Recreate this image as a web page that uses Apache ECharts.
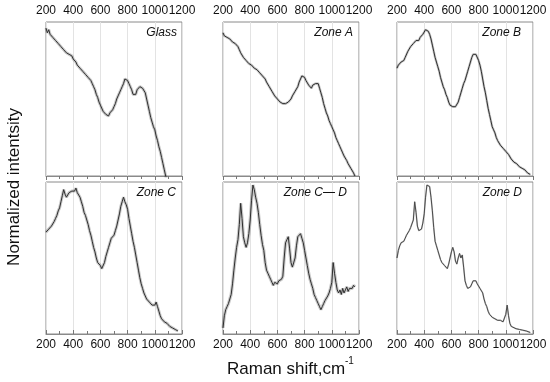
<!DOCTYPE html>
<html><head><meta charset="utf-8">
<script src="https://cdn.jsdelivr.net/npm/echarts@6/dist/echarts.min.js"></script>
<style>html,body{margin:0;padding:0;background:#fff}#c{width:550px;height:382px}</style>
</head><body><div id="c"></div>
<script>
const xTicks = [200, 400, 600, 800, 1000, 1200];
const panelNames = ['Glass', 'Zone A', 'Zone B', 'Zone C', 'Zone C\u2014 D', 'Zone D'];
const glass = [[200,.96],[210,.93],[220,.95],[230,.92],[240,.93],[250,.90],[260,.91],[270,.88],[280,.89],[290,.86],[300,.86],[310,.84],[320,.85],[330,.82],[340,.83],[350,.80],[360,.81],[370,.79],[380,.78],[390,.78],[400,.76],[410,.75],[420,.74],[430,.72],[440,.73],[450,.70],[460,.70],[470,.68],[480,.68],[490,.66],[500,.66],[510,.64],[520,.63],[530,.62],[540,.60],[550,.58],[560,.56],[570,.53],[580,.51],[590,.48],[600,.46],[610,.45],[620,.42],[630,.43],[640,.40],[650,.41],[660,.39],[670,.41],[680,.40],[690,.43],[700,.45],[710,.47],[720,.50],[730,.52],[740,.54],[750,.56],[760,.58],[770,.60],[780,.63],[790,.64],[800,.62],[810,.60],[820,.58],[830,.56],[840,.53],[850,.54],[860,.53],[870,.56],[880,.57],[890,.58],[900,.59],[910,.57],[920,.58],[930,.54],[940,.50],[950,.46],[960,.42],[970,.38],[980,.35],[990,.32],[1000,.30],[1010,.26],[1020,.23],[1030,.19],[1040,.16],[1050,.12],[1060,.08],[1070,.04],[1080,0],[1090,-.04]];
const zoneA = [[200,.93],[210,.91],[220,.92],[230,.90],[240,.91],[250,.89],[260,.89],[270,.87],[280,.88],[290,.86],[300,.86],[310,.84],[320,.82],[330,.80],[340,.79],[350,.77],[360,.77],[370,.75],[380,.75],[390,.73],[400,.73],[410,.72],[420,.72],[430,.70],[440,.71],[450,.69],[460,.69],[470,.67],[480,.67],[490,.65],[500,.64],[510,.63],[520,.61],[530,.60],[540,.58],[550,.57],[560,.55],[570,.54],[580,.52],[590,.52],[600,.50],[610,.49],[620,.48],[630,.47],[640,.47],[650,.46],[660,.47],[670,.47],[680,.48],[690,.49],[700,.50],[710,.52],[720,.53],[730,.55],[740,.56],[750,.58],[760,.61],[770,.63],[780,.65],[790,.66],[800,.64],[810,.62],[820,.61],[830,.59],[840,.58],[850,.57],[860,.59],[870,.58],[880,.60],[890,.59],[900,.60],[910,.57],[920,.54],[930,.51],[940,.47],[950,.44],[960,.41],[970,.39],[980,.36],[990,.34],[1000,.32],[1010,.30],[1020,.28],[1030,.25],[1040,.23],[1050,.21],[1060,.19],[1070,.17],[1080,.15],[1090,.13],[1100,.12],[1110,.10],[1120,.08],[1130,.07],[1140,.05],[1150,.04],[1160,.02],[1170,0]];
const zoneB = [[200,.70],[210,.72],[220,.71],[230,.74],[240,.74],[250,.75],[260,.77],[270,.78],[280,.81],[290,.82],[300,.84],[310,.85],[320,.86],[330,.87],[340,.88],[350,.89],[360,.88],[370,.90],[380,.91],[390,.92],[400,.93],[410,.95],[420,.96],[430,.94],[440,.92],[450,.89],[460,.85],[470,.81],[480,.77],[490,.74],[500,.71],[510,.68],[520,.64],[530,.61],[540,.58],[550,.56],[560,.53],[570,.51],[580,.48],[590,.46],[600,.46],[610,.45],[620,.44],[630,.45],[640,.46],[650,.48],[660,.51],[670,.54],[680,.57],[690,.60],[700,.62],[710,.65],[720,.68],[730,.71],[740,.74],[750,.77],[760,.79],[770,.80],[780,.79],[790,.78],[800,.75],[810,.72],[820,.68],[830,.63],[840,.58],[850,.54],[860,.49],[870,.44],[880,.40],[890,.36],[900,.32],[910,.30],[920,.28],[930,.25],[940,.23],[950,.22],[960,.20],[970,.19],[980,.18],[990,.17],[1000,.16],[1020,.14],[1040,.11],[1060,.09],[1080,.08],[1100,.06],[1120,.05],[1140,.04],[1160,.02],[1180,.01]];
const zoneC = [[200,.67],[210,.68],[220,.69],[230,.69],[240,.71],[250,.72],[260,.74],[270,.76],[280,.78],[290,.81],[300,.83],[310,.87],[320,.91],[330,.95],[340,.92],[350,.90],[360,.91],[370,.93],[380,.92],[390,.94],[400,.95],[410,.94],[420,.96],[430,.93],[440,.92],[450,.90],[460,.87],[470,.84],[480,.80],[490,.78],[500,.75],[510,.72],[520,.68],[530,.65],[540,.61],[550,.57],[560,.54],[570,.50],[580,.47],[590,.46],[600,.45],[610,.43],[620,.44],[630,.47],[640,.51],[650,.54],[660,.57],[670,.60],[680,.63],[690,.64],[700,.65],[710,.68],[720,.71],[730,.75],[740,.79],[750,.84],[760,.87],[770,.90],[780,.87],[790,.85],[800,.82],[810,.76],[820,.71],[830,.66],[840,.61],[850,.57],[860,.52],[870,.47],[880,.42],[890,.37],[900,.33],[910,.30],[920,.27],[930,.25],[940,.23],[950,.22],[960,.21],[970,.20],[980,.19],[990,.19],[1000,.19],[1010,.21],[1020,.18],[1030,.15],[1040,.12],[1050,.10],[1060,.09],[1070,.08],[1080,.07],[1090,.07],[1100,.06],[1110,.05],[1120,.04],[1130,.04],[1140,.03],[1150,.03],[1160,.02],[1170,.02]];
const zoneCD = [[200,.04],[210,.12],[220,.16],[230,.18],[240,.20],[250,.21],[260,.26],[270,.33],[280,.42],[290,.50],[300,.57],[310,.62],[320,.72],[330,.86],[340,.76],[350,.64],[360,.60],[370,.57],[380,.60],[390,.66],[400,.75],[410,.88],[420,.98],[430,.95],[440,.90],[450,.86],[460,.80],[470,.72],[480,.65],[490,.59],[500,.55],[510,.47],[520,.42],[530,.40],[540,.38],[550,.36],[560,.34],[570,.32],[580,.34],[590,.33],[600,.33],[610,.35],[620,.34],[630,.36],[640,.38],[650,.50],[660,.60],[670,.62],[680,.64],[690,.56],[700,.47],[710,.44],[720,.44],[730,.50],[740,.58],[750,.64],[760,.65],[770,.66],[780,.63],[790,.60],[800,.55],[810,.50],[820,.45],[830,.40],[840,.36],[850,.33],[860,.30],[870,.26],[880,.24],[890,.22],[900,.20],[910,.18],[920,.16],[930,.18],[940,.20],[950,.22],[960,.23],[970,.25],[980,.27],[990,.30],[1000,.34],[1010,.47],[1020,.40],[1030,.34],[1040,.29],[1050,.27],[1060,.29],[1070,.26],[1080,.30],[1090,.27],[1100,.29],[1110,.31],[1120,.28],[1130,.30],[1140,.29],[1150,.30],[1160,.32],[1170,.31]];
const zoneD = [[200,.50],[210,.55],[220,.58],[230,.60],[240,.59],[250,.61],[260,.63],[270,.65],[280,.66],[290,.68],[300,.70],[310,.71],[320,.75],[330,.87],[340,.80],[350,.71],[360,.68],[370,.67],[380,.69],[390,.73],[400,.79],[410,.90],[420,.98],[430,.99],[440,.97],[450,.90],[460,.81],[470,.70],[480,.61],[490,.58],[500,.55],[510,.52],[520,.49],[530,.47],[540,.46],[550,.45],[560,.44],[570,.43],[580,.46],[590,.50],[600,.54],[610,.57],[620,.54],[630,.48],[640,.46],[650,.50],[660,.53],[670,.50],[680,.52],[690,.44],[700,.35],[710,.32],[720,.30],[730,.30],[740,.31],[750,.33],[760,.35],[770,.36],[780,.35],[790,.33],[800,.32],[810,.30],[820,.29],[830,.27],[840,.23],[850,.20],[860,.18],[870,.15],[880,.13],[890,.12],[900,.11],[920,.10],[940,.09],[960,.09],[980,.08],[990,.09],[1000,.13],[1010,.19],[1020,.12],[1030,.07],[1040,.05],[1050,.04],[1075,.035],[1100,.03],[1125,.025],[1150,.02],[1180,.01]];
const seriesData = [glass, zoneA, zoneB, zoneC, zoneCD, zoneD];
const lineColors = ['#2e2e2e', '#2e2e2e', '#2e2e2e', '#2e2e2e', '#2e2e2e', '#4a4a4a'];
const fuzzWidth = [3, 2.6, 2.4, 3, 3.2, 1.6];

const lefts = [46, 223, 397];
const W = 136;
const tops = [22, 182];
const heights = [154, 152];
const labelRight = [5, 6, 12, 6, 12, 11];

const grids = [], xAxes = [], yAxes = [], series = [], titles = [];
for (let i = 0; i < 6; i++) {
  const r = Math.floor(i / 3), c = i % 3;
  grids.push({left: lefts[c], top: tops[r], width: W, height: heights[r], show: true, borderColor: '#8a8a8a', borderWidth: 1, backgroundColor: 'transparent'});
  xAxes.push({
    type: 'value', gridIndex: i, min: 200, max: 1200, interval: 200,
    position: r === 0 ? 'top' : 'bottom',
    axisLine: {show: true, lineStyle: {color: '#8a8a8a'}},
    axisTick: {show: true, inside: true, length: 4, lineStyle: {color: '#777'}},
    minorTick: {show: true, splitNumber: 2, length: 3, lineStyle: {color: '#777'}},
    splitLine: {show: true, lineStyle: {color: '#e3e3e3', width: 1}},
    axisLabel: {show: true, color: '#111', fontSize: 12, fontFamily: 'Liberation Sans, Arial', margin: 5,
      formatter: v => xTicks.includes(v) ? String(v) : ''}
  });
  yAxes.push({type: 'value', gridIndex: i, min: 0, max: 1, show: true,
    axisLine: {show: false}, axisTick: {show: false}, axisLabel: {show: false}, splitLine: {show: false}});
  series.push({type: 'line', xAxisIndex: i, yAxisIndex: i, data: seriesData[i], showSymbol: false, symbol: 'none',
    clip: true, animation: false, silent: true, lineStyle: {color: 'rgba(60,60,60,0.28)', width: fuzzWidth[i]}});
  series.push({type: 'line', xAxisIndex: i, yAxisIndex: i, data: seriesData[i], showSymbol: false, symbol: 'none',
    clip: true, animation: false, lineStyle: {color: lineColors[i], width: 1}});
  const gridRight = 550 - (lefts[c] + W);
  titles.push({text: panelNames[i], right: gridRight + labelRight[i], top: tops[r] + 5,
    textStyle: {fontSize: 12, fontStyle: 'italic', fontWeight: 'normal', color: '#111', fontFamily: 'Liberation Sans, Arial'}, padding: 0});
}

const chart = echarts.init(document.getElementById('c'), null, {renderer: 'canvas'});
chart.setOption({
  animation: false,
  backgroundColor: '#fff',
  title: titles,
  grid: grids, xAxis: xAxes, yAxis: yAxes, series: series,
  graphic: [
    {type: 'text', x: 14, y: 187, rotation: Math.PI / 2,
      style: {text: 'Normalized intentsity', font: '17px "Liberation Sans", Arial', fill: '#111', textAlign: 'center', textVerticalAlign: 'middle'}},
    {type: 'text', x: 227, y: 369,
      style: {text: 'Raman shift,cm', font: '17px "Liberation Sans", Arial', fill: '#111', textAlign: 'left', textVerticalAlign: 'middle'}},
    {type: 'text', x: 345, y: 361,
      style: {text: '-1', font: '10px "Liberation Sans", Arial', fill: '#111', textAlign: 'left', textVerticalAlign: 'middle'}}
  ]
});
</script>
</body></html>
